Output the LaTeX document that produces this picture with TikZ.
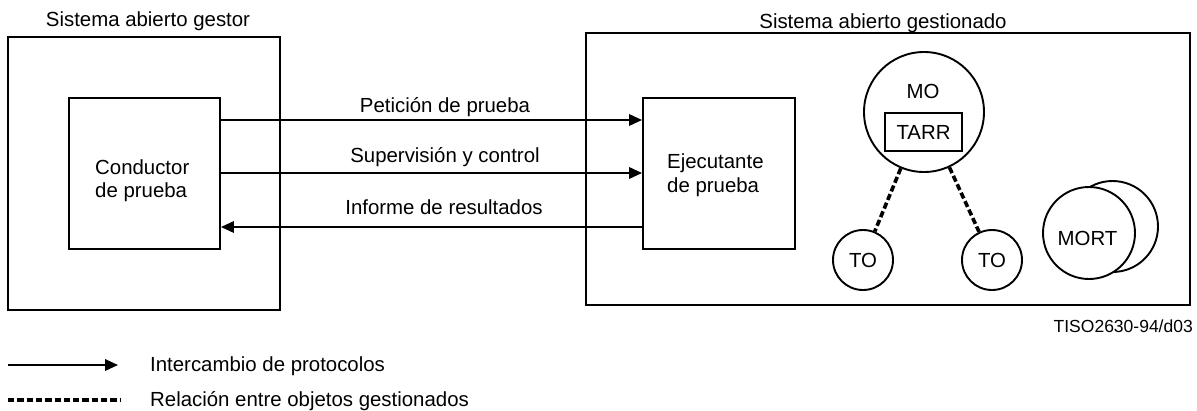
\documentclass[tikz,border=0pt]{standalone}
\usepackage{fontspec}
\setmainfont{Liberation Sans}
\usetikzlibrary{arrows.meta}
\begin{document}
\begin{tikzpicture}[x=1pt,y=-1pt,
  box/.style={draw, line width=1.9pt, rectangle, inner sep=0pt},
  circ/.style={draw, line width=1.9pt, circle, inner sep=0pt, fill=white},
  txt/.style={font=\fontsize{20.4pt}{24pt}\selectfont, inner sep=0pt, text height=14.6pt, text depth=0pt},
  smalltxt/.style={font=\fontsize{17.5pt}{21pt}\selectfont, inner sep=0pt, text height=12.5pt, text depth=0pt},
  proto/.style={line width=1.9pt, -{Triangle[length=13pt,width=11.5pt]}},
  rel/.style={line width=3.6pt, dash pattern=on 6.3pt off 3pt},
]
\useasboundingbox (0,0) rectangle (1197,410);
\fill[white] (0,0) rectangle (1197,410);

% outer systems
\node[box, minimum width=272pt, minimum height=273pt] (mgr) at (144,173.5) {};
\node[txt] (mgrlbl) at (148,19) {Sistema abierto gestor};
\node[box, minimum width=604pt, minimum height=272pt] (agt) at (888,169) {};
\node[txt] (agtlbl) at (883,21) {Sistema abierto gestionado};

% inner boxes
\node[box, minimum width=151pt, minimum height=151pt] (cond) at (144.5,173.5) {};
\node[txt, anchor=west] (condA) at (95,167.5) {Conductor};
\node[txt, anchor=west] (condB) at (95,190) {de prueba};
\node[box, minimum width=152pt, minimum height=151pt] (ejec) at (719,173.5) {};
\node[txt, anchor=west] (ejecA) at (667,161.5) {Ejecutante};
\node[txt, anchor=west] (ejecB) at (667,185.5) {de prueba};

% protocol arrows
\draw[proto] (cond.east |- 0,120) -- (ejec.west |- 0,120);
\node[txt] (pet) at (445,105.5) {Petición de prueba};
\draw[proto] (cond.east |- 0,173) -- (ejec.west |- 0,173);
\node[txt] (sup) at (445,155.5) {Supervisión y control};
\draw[proto] (ejec.west |- 0,227) -- (cond.east |- 0,227);
\node[txt] (inf) at (444,207.5) {Informe de resultados};

% managed objects
\node[circ, minimum size=120pt] (mo) at (924,112) {};
\node[txt] (molbl) at (923,91.5) {MO};
\node[box, txt, minimum width=77pt, minimum height=38pt] (tarr) at (923.5,132) {TARR};
\node[circ, txt, minimum size=60pt] (to1) at (863,260) {TO};
\node[circ, txt, minimum size=60pt] (to2) at (992,260) {TO};
\draw[rel] (mo) -- (to1);
\draw[rel] (mo) -- (to2);
\node[circ, minimum size=91pt] (mortb) at (1112.5,226.5) {};
\node[circ, minimum size=92pt] (mort) at (1089,233) {};
\node[txt] (mortlbl) at (1087.5,238.5) {MORT};

\node[smalltxt, anchor=east] (tiso) at (1193,326) {TISO2630-94/d03};

% legend
\coordinate (l1a) at (8,365);
\coordinate (l1b) at (118,365);
\draw[proto] (l1a) -- (l1b);
\node[txt, anchor=west] (l1t) at (150,364.5) {Intercambio de protocolos};
\coordinate (l2a) at (8,400);
\coordinate (l2b) at (120,400);
\draw[rel] (l2a) -- (l2b);
\node[txt, anchor=west] (l2t) at (150,399.5) {Relación entre objetos gestionados};
\end{tikzpicture}
\end{document}
